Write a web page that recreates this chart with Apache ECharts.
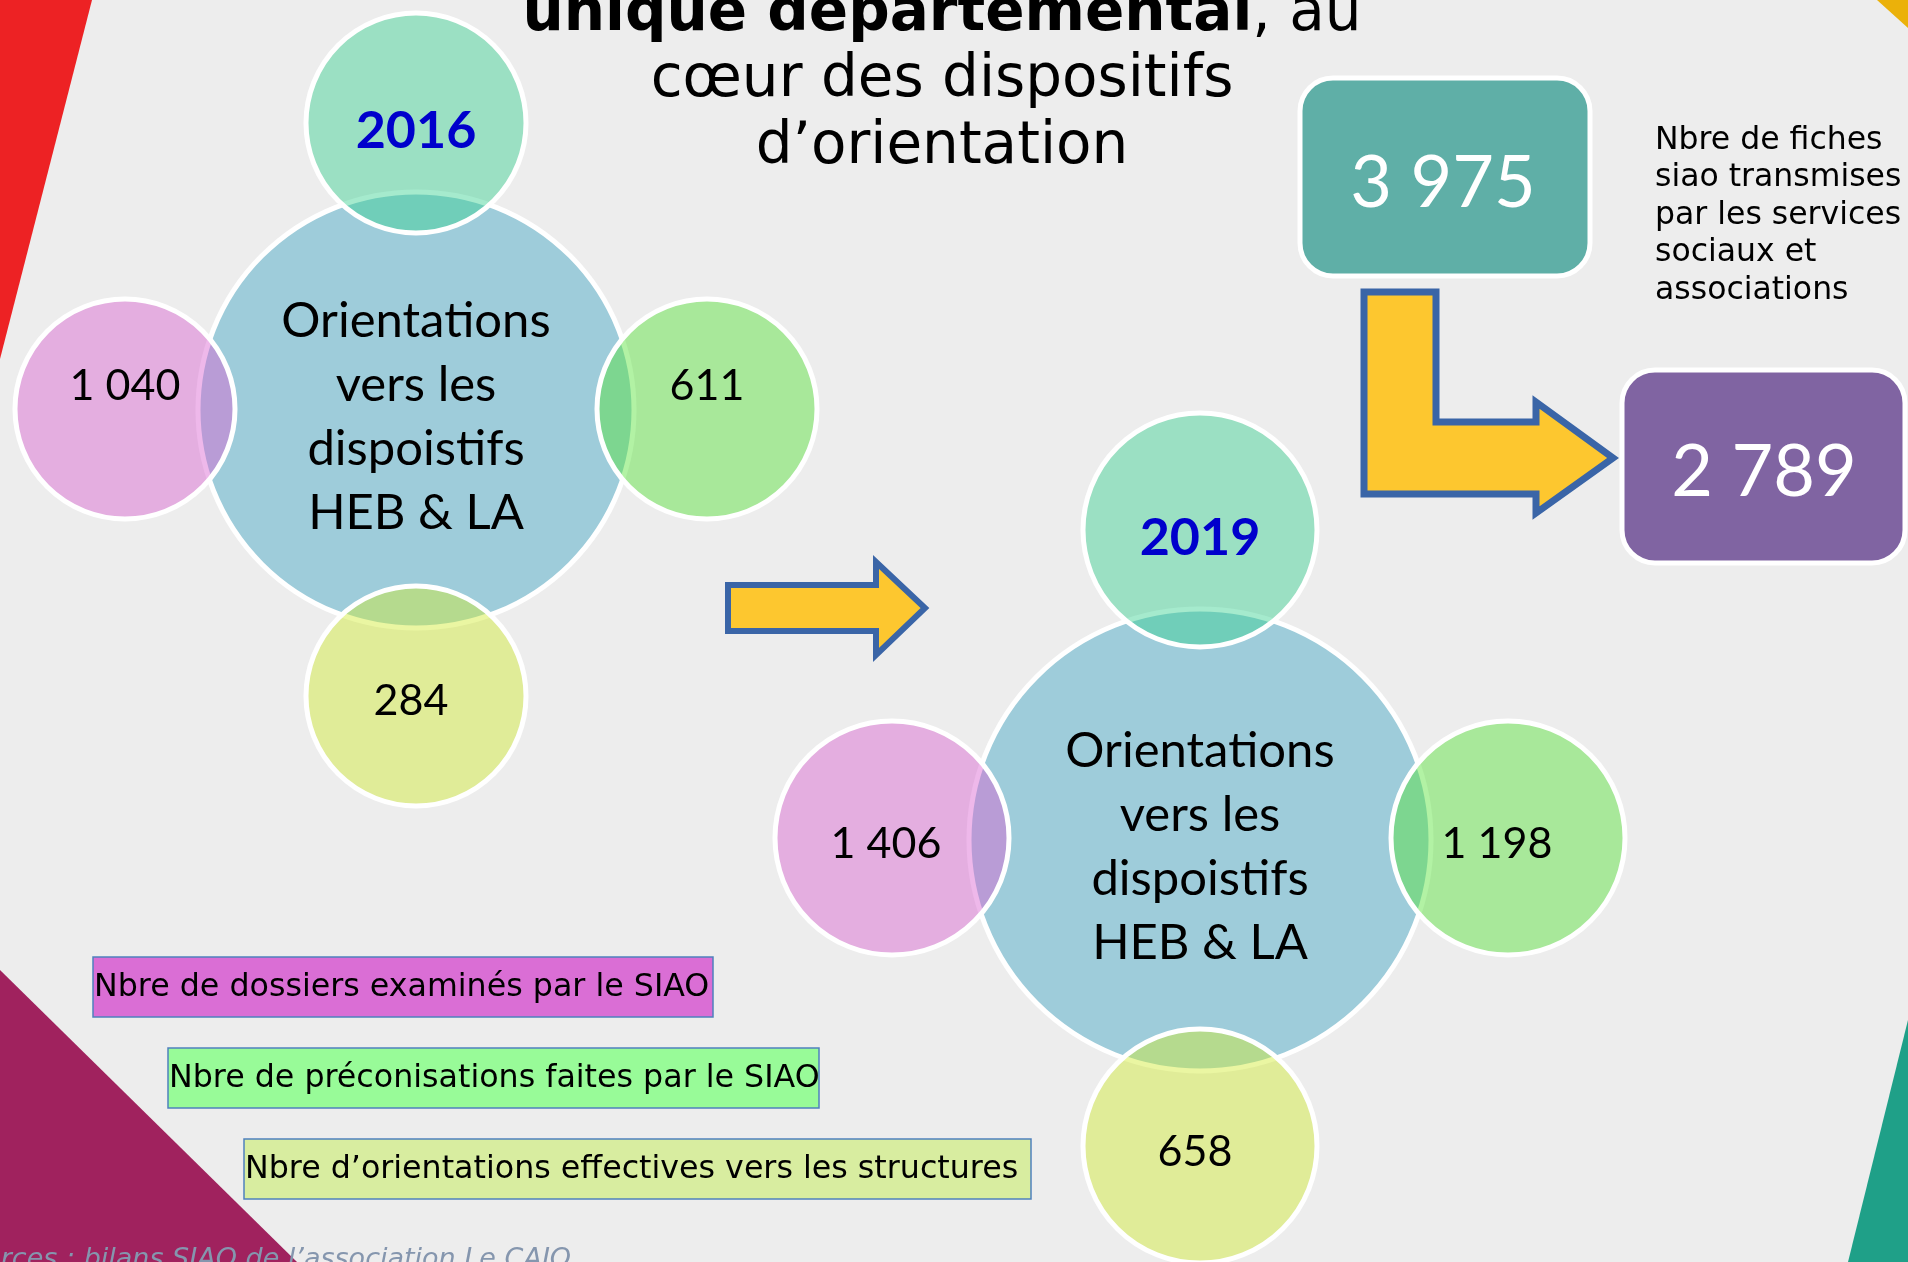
<!DOCTYPE html>
<html>
<head>
<meta charset="utf-8">
<script src="https://cdn.jsdelivr.net/npm/echarts@6/dist/echarts.min.js"></script>
<style>
html, body { margin: 0; padding: 0; background: #ededed; }
#main { width: 1908px; height: 1262px; }
</style>
</head>
<body>
<div id="main"></div>
<script>
// ---- data ----
var years = ['2016', '2019'];
var dossiersExamines = [1040, 1406];        // pink
var preconisations = [611, 1198];           // green
var orientationsEffectives = [284, 658];    // yellow
var centreLabel = ['Orientations', 'vers les', 'dispoistifs', 'HEB & LA'];
var fichesTransmises = [3975];
var fichesOrientees = [2789];
var fichesNote = ['Nbre de fiches', 'siao transmises', 'par les services', 'sociaux et', 'associations'];
var legendLabels = [
	'Nbre de dossiers examinés par le SIAO',
	'Nbre de préconisations faites par le SIAO',
	'Nbre d\u2019orientations effectives vers les structures'
];
var titleBold = 'unique départemental';
var titleLines = [', au', 'cœur des dispositifs', 'd\u2019orientation'];
var sourceText = 'Sources : bilans SIAO de l\u2019association Le CAIO';

// ---- layout (pixels, the grid maps 1:1 on the page) ----
var W = 1908, H = 1262;
var groupPos = [[416, 410], [1200, 840]];
var bigSize = [436, 462];
var smallSize = [220, 234];
// top, left, right, bottom
var satOffset = [
	[[0, -287], [-291, -1], [291, -1], [0, 286]],
	[[0, -310], [-308, -2], [308, -2], [0, 306]]
];
var labelShift = [
	[[0, 8], [0, -23], [0, -23], [-5, 5]],
	[[0, 8], [-6, 6], [-11, 6], [-5, 6]]
];
var satColors = ['rgba(59,209,146,0.46)', 'rgba(217,100,209,0.46)', 'rgba(87,226,57,0.46)', 'rgba(209,235,52,0.46)'];
var legendBoxes = [[93, 957, 620, 60, '#da6ed5'], [168, 1048, 651, 60, '#98fb98'], [244, 1139, 787, 60, '#d8eda0']];

var calibri = 'Lato, "Open Sans", sans-serif';
var dejavu = '"DejaVu Sans", sans-serif';

function fmt(v) {
	return String(v).replace(/\B(?=(\d{3})+(?!\d))/g, ' ');
}

var bigData = groupPos.map(function (p, i) {
	return { value: p, symbolSize: bigSize[i] };
});

var smallData = [];
groupPos.forEach(function (p, g) {
	var texts = [years[g], fmt(dossiersExamines[g]), fmt(preconisations[g]), fmt(orientationsEffectives[g])];
	for (var k = 0; k < 4; k++) {
		var item = {
			value: [p[0] + satOffset[g][k][0], p[1] + satOffset[g][k][1]],
			symbolSize: smallSize[g],
			itemStyle: { color: satColors[k] },
			label: { formatter: texts[k], offset: labelShift[g][k] }
		};
		if (k === 0) {
			item.label.fontWeight = 'bold';
			item.label.color = '#0000cc';
			item.label.fontSize = 52;
		}
		smallData.push(item);
	}
});

var graphics = [
	// corner decorations
	{ type: 'polygon', z: 0, shape: { points: [[0, 0], [92, 0], [0, 359]] }, style: { fill: '#ed2224' }, silent: true },
	{ type: 'polygon', z: 0, shape: { points: [[0, 970], [297, H], [0, H]] }, style: { fill: '#a0225e' }, silent: true },
	{ type: 'polygon', z: 0, shape: { points: [[W, 1020], [W, H], [1848, H]] }, style: { fill: '#1fa088' }, silent: true },
	{ type: 'polygon', z: 0, shape: { points: [[1877, 0], [W, 0], [W, 28]] }, style: { fill: '#ebb10a' }, silent: true },
	// arrows
	{ type: 'polygon', z: 5, shape: { points: [[728, 585], [876, 585], [876, 562], [925, 608], [876, 655], [876, 631], [728, 631]] },
		style: { fill: '#fdc72f', stroke: '#3a65a7', lineWidth: 6, lineJoin: 'miter' }, silent: true },
	{ type: 'polygon', z: 5, shape: { points: [[1364, 292], [1436, 292], [1436, 422], [1536, 422], [1536, 402], [1613, 458], [1536, 513], [1536, 494], [1364, 494]] },
		style: { fill: '#fdc72f', stroke: '#3a65a7', lineWidth: 7, lineJoin: 'miter' }, silent: true },
	// number boxes
	{ type: 'rect', z: 5, shape: { x: 1300, y: 78, width: 290, height: 198, r: 33 }, style: { fill: '#5fafa7', stroke: '#fff', lineWidth: 5 }, silent: true },
	{ type: 'text', z: 6, x: 1443, y: 184, style: { text: fmt(fichesTransmises[0]), fill: '#fff', font: '72px ' + calibri, align: 'center', verticalAlign: 'middle' }, silent: true },
	{ type: 'rect', z: 5, shape: { x: 1622, y: 370, width: 283, height: 193, r: 33 }, style: { fill: '#8064a2', stroke: '#fff', lineWidth: 5 }, silent: true },
	{ type: 'text', z: 6, x: 1764, y: 473, style: { text: fmt(fichesOrientees[0]), fill: '#fff', font: '72px ' + calibri, align: 'center', verticalAlign: 'middle' }, silent: true },
	{ type: 'text', z: 6, x: 1655, y: 122, style: { text: fichesNote.join('\n'), fill: '#000', font: '31.5px ' + dejavu, lineHeight: 37.5, align: 'left', verticalAlign: 'top' }, silent: true },
	// title
	{ type: 'text', z: 6, x: 942, y: 15, style: {
		text: '{b|' + titleBold + '}{n|' + titleLines[0] + '}', align: 'center', verticalAlign: 'middle',
		rich: { b: { fontFamily: dejavu, fontWeight: 'bold', fontSize: 58, fill: '#000' }, n: { fontFamily: dejavu, fontSize: 58, fill: '#000' } }
	}, silent: true },
	{ type: 'text', z: 6, x: 942, y: 81, style: { text: titleLines[1], fill: '#000', font: '58px ' + dejavu, align: 'center', verticalAlign: 'middle' }, silent: true },
	{ type: 'text', z: 6, x: 942, y: 148, style: { text: titleLines[2], fill: '#000', font: '58px ' + dejavu, align: 'center', verticalAlign: 'middle' }, silent: true },
	// source
	{ type: 'text', z: 6, x: -50, y: 1260, style: { text: sourceText, fill: '#8596ae', font: 'italic 27px ' + dejavu, align: 'left', verticalAlign: 'middle' }, silent: true }
];

legendBoxes.forEach(function (b, i) {
	graphics.push({ type: 'rect', z: 5, shape: { x: b[0], y: b[1], width: b[2], height: b[3] }, style: { fill: b[4], stroke: '#4f81bd', lineWidth: 1.5 }, silent: true });
	graphics.push({ type: 'text', z: 6, x: b[0] + 1, y: b[1] + b[3] / 2 + 1, style: { text: legendLabels[i], fill: '#000', font: '31.7px ' + dejavu, align: 'left', verticalAlign: 'middle' }, silent: true });
});

var chart = echarts.init(document.getElementById('main'), null, { renderer: 'canvas' });
chart.setOption({
	backgroundColor: '#ededed',
	animation: false,
	grid: { left: 0, right: 0, top: 0, bottom: 0 },
	xAxis: { type: 'value', min: 0, max: W, show: false },
	yAxis: { type: 'value', min: 0, max: H, inverse: true, show: false },
	series: [
		{
			type: 'scatter', z: 2, silent: true, symbol: 'circle',
			itemStyle: { color: '#9eccda', borderColor: '#fff', borderWidth: 5, opacity: 1 },
			label: {
				show: true, position: 'inside', formatter: centreLabel.join('\n'),
				fontFamily: calibri, fontSize: 49, lineHeight: 64, color: '#000', offset: [0, 7]
			},
			data: bigData
		},
		{
			type: 'scatter', z: 3, silent: true, symbol: 'circle',
			itemStyle: { borderColor: '#fff', borderWidth: 5, opacity: 1 },
			label: { show: true, position: 'inside', fontFamily: calibri, fontSize: 43, color: '#000' },
			data: smallData
		}
	],
	graphic: graphics
});
</script>
</body>
</html>
